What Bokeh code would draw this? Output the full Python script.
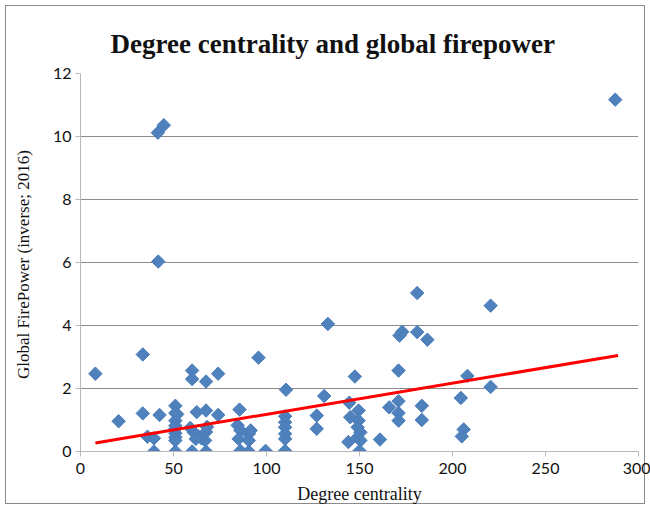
import numpy as np
from bokeh.plotting import figure
from bokeh.models import Range1d, FixedTicker
from bokeh.embed import file_html
from bokeh.resources import INLINE

# Degree centrality (x) and Global FirePower inverse 2016 (y)
degree = [8, 20.5, 33.5, 33.5, 36, 39.5, 39.5, 42.5, 41.6, 44.8, 41.8,
          51, 51, 51, 51, 51, 51, 51, 51, 51, 52,
          60, 60, 67.5, 74, 62.5, 67.5, 74, 60, 67.5, 59, 61, 63, 65, 67.5, 68, 67, 62,
          85.5, 84.5, 86, 90.5, 85, 90.5, 86, 90.5, 99.5, 95.7, 91.5,
          110.5, 110, 110, 110, 110, 110, 110,
          127, 127, 131, 133,
          147.5, 144.5, 145, 149.5, 149.5, 149, 150.5, 149, 144, 150.5, 150,
          161, 166, 171, 171, 171, 171, 171.5, 173, 181, 181, 186.5, 183.5, 183.5,
          204.5, 206, 205, 208, 220.5, 220.5, 287.5]
firepower = [2.47, 0.96, 3.08, 1.21, 0.47, 0.42, 0.0, 1.16, 10.12, 10.36, 6.03,
             1.45, 1.22, 0.98, 0.82, 0.72, 0.58, 0.45, 0.35, 0.0, 1.18,
             2.57, 2.3, 2.22, 2.47, 1.25, 1.3, 1.16, 0.0, 0.0, 0.75, 0.6, 0.5, 0.42, 0.62, 0.78, 0.35, 0.4,
             1.33, 0.83, 0.67, 0.56, 0.4, 0.35, 0.02, 0.0, 0.02, 2.98, 0.67,
             1.96, 1.12, 0.93, 0.77, 0.56, 0.4, 0.02,
             1.14, 0.72, 1.76, 4.05,
             2.38, 1.55, 1.09, 1.3, 0.98, 0.77, 0.61, 0.45, 0.3, 0.35, 0.02,
             0.38, 1.4, 1.6, 1.22, 0.98, 2.57, 3.68, 3.8, 3.79, 5.03, 3.55, 1.45, 1.0,
             1.7, 0.7, 0.48, 2.4, 4.63, 2.05, 11.17]

# Linear trend line end points
trend_x = [8, 289]
trend_y = [0.27, 3.05]

x_ticks = [0, 50, 100, 150, 200, 250, 300]
y_ticks = [0, 2, 4, 6, 8, 10, 12]

title_text = "Degree centrality and global firepower"
x_title = "Degree centrality"
y_title = "Global FirePower  (inverse; 2016)"

p = figure(width=650, height=509, output_backend="svg", toolbar_location=None,
           x_range=Range1d(0, 300), y_range=Range1d(0, 12),
           min_border_left=80, min_border_right=12, min_border_top=73,
           min_border_bottom=58)
# transparent canvas border so the host's inset frame line shows through
p.border_fill_color = None
p.background_fill_color = "white"
p.styles = {"background-color": "white",
            "box-shadow": "inset 0 0 0 5px white, inset 0 0 0 6px #8a8a8a"}

p.title.text = title_text
p.title.text_font = "Liberation Serif"
p.title.text_font_style = "bold"
p.title.text_font_size = "27px"
p.title.text_color = "#111111"
p.title.align = "left"
p.title.offset = 30
p.title.standoff = 30

p.outline_line_color = None

p.xgrid.visible = False
p.ygrid.ticker = FixedTicker(ticks=y_ticks)
p.ygrid.grid_line_color = "#8c8c8c"
p.ygrid.grid_line_width = 1

p.xaxis.ticker = FixedTicker(ticks=x_ticks)
p.yaxis.ticker = FixedTicker(ticks=y_ticks)
for ax in (p.xaxis, p.yaxis):
    ax.axis_line_color = "#b8b8b8"
    ax.major_tick_line_color = "#b8b8b8"
    ax.minor_tick_line_color = None
    ax.major_tick_in = 0
    ax.major_tick_out = 5
    ax.major_label_text_font = "Lato"
    ax.major_label_text_font_size = "16px"
    ax.major_label_text_color = "#111111"
    ax.axis_label_text_font = "Liberation Serif"
    ax.axis_label_text_font_style = "normal"
    ax.axis_label_text_color = "#111111"

p.xaxis.axis_label = x_title
p.xaxis.axis_label_text_font_size = "18px"
p.xaxis.major_label_standoff = 6
p.xaxis.axis_label_standoff = 7

p.yaxis.axis_label = y_title
p.yaxis.axis_label_text_font_size = "17px"
p.yaxis.major_label_standoff = 4
p.yaxis.axis_label_standoff = 17

p.scatter(degree, firepower, marker="square", angle=np.pi / 4, size=9.5,
          fill_color="#4F81BD", line_color="#4A7DBA", line_width=1)
p.line(trend_x, trend_y, line_color="#FF0000", line_width=3)

open("out.html", "w").write(file_html(p, INLINE))
